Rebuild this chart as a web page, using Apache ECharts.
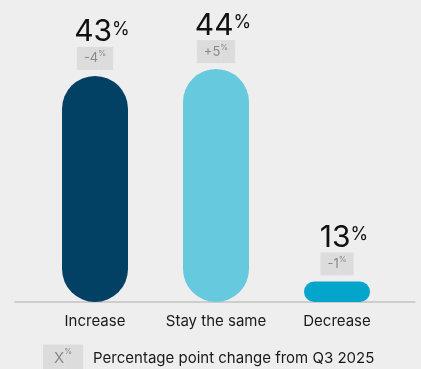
<!DOCTYPE html>
<html>
<head>
<meta charset="utf-8">
<script src="https://cdn.jsdelivr.net/npm/echarts@6/dist/echarts.min.js"></script>
<style>
  html, body { margin: 0; padding: 0; background: #eeeeee; }
  #chart { width: 421px; height: 369px; }
</style>
</head>
<body>
<div id="chart"></div>
<script>
// chart data
var categories = ['Increase', 'Stay the same', 'Decrease'];
var values = [43, 44, 13];
var changes = ['-4', '+5', '-1'];
var barColors = ['#024164', '#67c9de', '#03a6ca'];
var legendText = 'Percentage point change from Q3 2025';

var FONT = 'Inter';

var chart = echarts.init(document.getElementById('chart'), null, { renderer: 'canvas' });

var barData = values.map(function (v, i) {
  return {
    value: v,
    itemStyle: { color: barColors[i] },
    label: {
      formatter: '{num|' + v + '}{pct|%}\n{bt|' + changes[i] + '}{bp|%}'
    }
  };
});

var option = {
  backgroundColor: '#eeeeee',
  animation: false,
  textStyle: { fontFamily: FONT },
  title: {
    left: 43,
    top: 349,
    padding: 0,
    text: '{lx|X}{lp|%}{sp|}{t|' + legendText + '}',
    textStyle: {
      fontWeight: 'normal',
      rich: {
        lx: { fontFamily: FONT, fontSize: 15, lineHeight: 15, color: '#8a8a8a', backgroundColor: '#dcdcdc', padding: [6, 0, 6, 11] },
        lp: { fontFamily: FONT, fontSize: 8, lineHeight: 8, color: '#8a8a8a', backgroundColor: '#dcdcdc', padding: [3, 11, 16, 0] },
        sp: { width: 10 },
        t: { fontFamily: FONT, fontSize: 15, fontWeight: 'normal', color: '#1a1a1a' }
      }
    }
  },
  grid: [
    { left: 34.5, right: 23.5, top: 28, bottom: 67 },
    { left: 15, right: 6, top: 28, bottom: 67 }
  ],
  xAxis: [
    {
      type: 'category',
      gridIndex: 0,
      data: categories,
      axisLine: { show: false },
      axisTick: { show: false },
      axisLabel: { interval: 0, margin: 12, fontFamily: FONT, fontSize: 15, color: '#1a1a1a' }
    },
    {
      type: 'category',
      gridIndex: 1,
      data: categories,
      axisLine: { show: true, lineStyle: { color: '#c2c2c2', width: 1.5 } },
      axisTick: { show: false },
      axisLabel: { show: false }
    }
  ],
  yAxis: [
    { type: 'value', gridIndex: 0, min: 10, max: 50, show: false },
    { type: 'value', gridIndex: 1, min: 10, max: 50, show: false }
  ],
  series: [
    {
      type: 'bar',
      xAxisIndex: 0,
      yAxisIndex: 0,
      data: barData,
      barWidth: 66,
      itemStyle: { borderRadius: 33 },
      label: {
        show: true,
        position: 'top',
        distance: 11,
        align: 'center',
        rich: {
          num: { fontFamily: FONT, fontSize: 30, lineHeight: 30, color: '#111111', padding: [0, 0, 9, 14] },
          pct: { fontFamily: FONT, fontSize: 18, lineHeight: 18, color: '#111111', padding: [3, 0, 18, 0] },
          bt: { fontFamily: FONT, fontSize: 13, lineHeight: 13, color: '#8a8a8a', backgroundColor: '#dcdcdc', padding: [5, 0, 5, 7] },
          bp: { fontFamily: FONT, fontSize: 8, lineHeight: 8, color: '#8a8a8a', backgroundColor: '#dcdcdc', padding: [3, 7, 12, 0] }
        }
      }
    }
  ]
};

chart.setOption(option);
</script>
</body>
</html>
